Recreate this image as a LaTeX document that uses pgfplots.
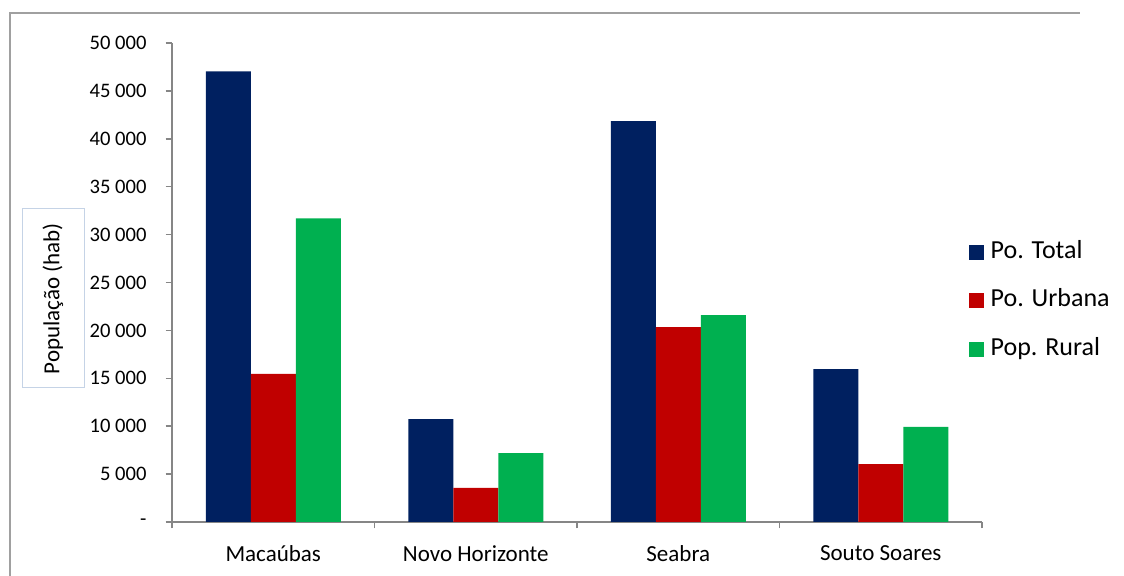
\documentclass[border=0pt]{standalone}
\usepackage{fontspec}
\setmainfont{Carlito}
\usepackage{pgfplots}
\pgfplotsset{compat=1.18}
\definecolor{total}{HTML}{002060}
\definecolor{urbana}{HTML}{C00000}
\definecolor{rural}{HTML}{00B050}
\definecolor{axisgray}{HTML}{868686}
\definecolor{framegray}{HTML}{A0A0A0}
\definecolor{boxline}{HTML}{C5D3E6}
\begin{document}
\begin{tikzpicture}
\useasboundingbox (0,0) rectangle (562pt,288pt);
% chart area frame (top and left edges fall inside the page)
\draw[framegray, line width=0.7pt] (5pt,0pt) -- (5pt,281.5pt) -- (540pt,281.5pt);
% boxed axis title
\node[draw=boxline, line width=0.5pt, rotate=90, minimum width=89.5pt,
      minimum height=31pt, inner sep=0pt, font=\fontsize{11.5}{14}\selectfont]
      at (26.5pt,138.75pt) {População (hab)};
\begin{axis}[
  at={(86pt,27pt)}, anchor=south west,
  scale only axis, width=405pt, height=239.5pt,
  ybar=0pt, bar width=22.5pt,
  xmin=-0.5, xmax=3.5, ymin=0, ymax=50000,
  scaled y ticks=false,
  axis lines*=left,
  axis line style={axisgray, line width=0.75pt, -},
  tick align=outside, major tick length=3.2pt,
  tick style={axisgray, line width=0.75pt},
  ytick={0,5000,...,50000},
  yticklabels={-,5 000,10 000,15 000,20 000,25 000,30 000,35 000,40 000,45 000,50 000},
  yticklabel style={font=\fontsize{10.3}{12}\selectfont, xshift=-6pt},
  xtick={-0.5,0.5,1.5,2.5,3.5},
  x tick label as interval,
  xticklabels={Macaúbas,Novo Horizonte,Seabra,Souto Soares},
  xticklabel style={font=\fontsize{11.5}{13}\selectfont, yshift=-5pt},
  legend cell align=left,
  legend style={draw=none, fill=none, at={(0.983,0.587)}, anchor=north west,
    inner sep=0pt, row sep=15.1pt, column sep=3.5pt,
    nodes={inner sep=0pt, text height=8.4pt, text depth=0pt},
    font=\fontsize{13}{15}\selectfont},
  legend image code/.code={\fill[#1,draw=none] (0pt,-5pt) rectangle (7.5pt,2.5pt);},
]
\addplot[fill=total, draw=none] coordinates {(0,47050) (1,10750) (2,41850) (3,15950)};
\addplot[fill=urbana, draw=none] coordinates {(0,15450) (1,3550) (2,20350) (3,6050)};
\addplot[fill=rural, draw=none] coordinates {(0,31700) (1,7200) (2,21600) (3,9920)};
\legend{Po. Total,Po. Urbana,Pop. Rural}
\end{axis}
\end{tikzpicture}
\end{document}
